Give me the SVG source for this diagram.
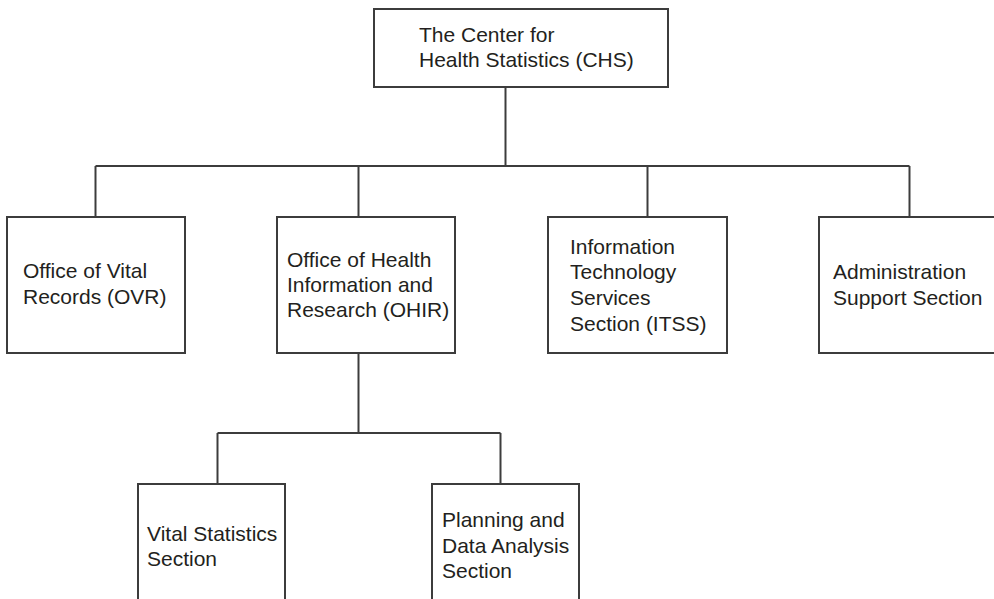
<svg xmlns="http://www.w3.org/2000/svg" width="994" height="599" viewBox="0 0 994 599">
  <style>
    .box { fill: #ffffff; stroke: #3c3c3c; stroke-width: 2; }
    .wire { fill: none; stroke: #3c3c3c; stroke-width: 2; }
    .lbl { font-family: "Liberation Sans", Arial, sans-serif; font-size: 21px; fill: #231f20; }
  </style>
  <rect width="994" height="599" fill="#ffffff"/>

  <g id="connectors">
    <path class="wire" d="M505.5 87 V166"/>
    <path class="wire" d="M95.5 166 H909.5"/>
    <path class="wire" d="M95.5 166 V217"/>
    <path class="wire" d="M358.5 166 V217"/>
    <path class="wire" d="M647.5 166 V217"/>
    <path class="wire" d="M909.5 166 V217"/>
    <path class="wire" d="M358.5 353 V433"/>
    <path class="wire" d="M217.5 433 H500.5"/>
    <path class="wire" d="M217.5 433 V484"/>
    <path class="wire" d="M500.5 433 V484"/>
  </g>

  <g id="chs">
    <rect class="box" x="374" y="9" width="294" height="78"/>
    <text class="lbl" x="419" y="42">The Center for</text>
    <text class="lbl" x="419" y="67">Health Statistics (CHS)</text>
  </g>

  <g id="ovr">
    <rect class="box" x="7" y="217" width="178" height="136"/>
    <text class="lbl" x="23" y="278">Office of Vital</text>
    <text class="lbl" x="23" y="304">Records (OVR)</text>
  </g>

  <g id="ohir">
    <rect class="box" x="277" y="217" width="178" height="136"/>
    <text class="lbl" x="287" y="267">Office of Health</text>
    <text class="lbl" x="287" y="292">Information and</text>
    <text class="lbl" x="287" y="317">Research (OHIR)</text>
  </g>

  <g id="itss">
    <rect class="box" x="548" y="217" width="179" height="136"/>
    <text class="lbl" x="570" y="254">Information</text>
    <text class="lbl" x="570" y="279">Technology</text>
    <text class="lbl" x="570" y="305">Services</text>
    <text class="lbl" x="570" y="331">Section (ITSS)</text>
  </g>

  <g id="admin">
    <rect class="box" x="819" y="217" width="190" height="136"/>
    <text class="lbl" x="833" y="279">Administration</text>
    <text class="lbl" x="833" y="305">Support Section</text>
  </g>

  <g id="vss">
    <rect class="box" x="138" y="484" width="147" height="130"/>
    <text class="lbl" x="147" y="541">Vital Statistics</text>
    <text class="lbl" x="147" y="566">Section</text>
  </g>

  <g id="pdas">
    <rect class="box" x="432" y="484" width="147" height="130"/>
    <text class="lbl" x="442" y="527">Planning and</text>
    <text class="lbl" x="442" y="553">Data Analysis</text>
    <text class="lbl" x="442" y="578">Section</text>
  </g>
</svg>
